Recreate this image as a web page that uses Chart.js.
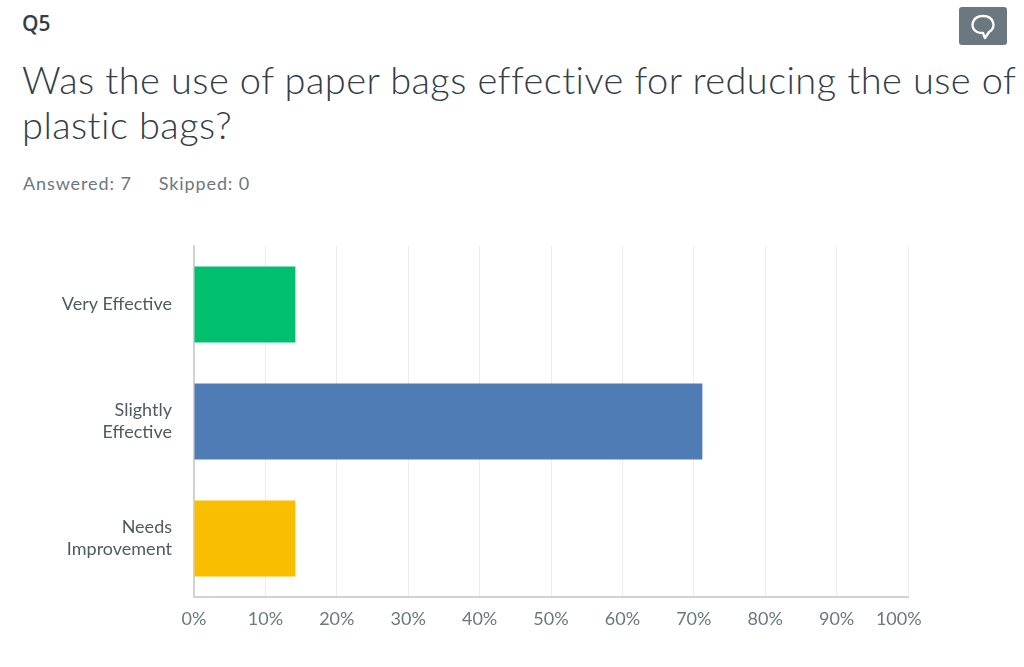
<!DOCTYPE html>
<html>
<head>
<meta charset="utf-8">
<title>Q5</title>
<script src="https://cdn.jsdelivr.net/npm/chart.js"></script>
<style>
    html, body { margin: 0; padding: 0; background: #fff; }
    body { width: 1024px; height: 667px; position: relative; overflow: hidden; font-family: "Open Sans", sans-serif; }
    #numero { position: absolute; left: 22px; top: 9px; font-size: 21px; font-weight: 600; color: #333e48; }
    #pregunta { position: absolute; left: 22px; top: 57px; width: 1002px; margin: 0; font-family: "Lato", sans-serif; font-weight: 300; font-size: 38px; line-height: 45px; letter-spacing: 0.42px; color: #333e48; }
    #respuestas { position: absolute; left: 23px; top: 172px; font-family: "Lato", sans-serif; font-size: 18px; letter-spacing: 0.9px; color: #6b787f; }
    #respuestas span { margin-right: 27px; }
    #comentario { position: absolute; left: 959px; top: 7px; }
    #grafico1 { position: absolute; left: 0; top: 220px; }
</style>
</head>
<body>
<div id="numero">Q5</div>
<svg id="comentario" width="48" height="38" viewBox="0 0 48 38">
    <rect width="48" height="38" rx="3" fill="#6b787f"/>
    <path d="M18 25 C10 21 13 9 24 9 C35 9 38 21 30 25 L26 31 L24 26 C22 26 20 26 18 25 Z" fill="none" stroke="#fff" stroke-width="2.4" stroke-linejoin="round"/>
</svg>
<h1 id="pregunta">Was the use of paper bags effective for reducing the use of plastic bags?</h1>
<div id="respuestas"><span>Answered: 7</span><span>Skipped: 0</span></div>
<canvas id="grafico1" width="1024" height="447"></canvas>
<script>
const categorias = [["Very Effective"], ["Slightly", "Effective"], ["Needs", "Improvement"]];
const valores = [14.2, 71.2, 14.2];
const colores = ["#00bf6f", "#507cb6", "#f9be00"];
const ticks_x = [0, 10, 20, 30, 40, 50, 60, 70, 80, 90, 100];

const fuente = { family: "Lato", size: 18, lineHeight: 1.22 };

new Chart(document.getElementById("grafico1"), {
    type: 'bar',
    data: {
        labels: categorias,
        datasets: [
            {
                label: "Responses",
                backgroundColor: colores,
                data: valores,
                barPercentage: 0.65,
                categoryPercentage: 1
            }
        ]
    },
    options: {
        indexAxis: 'y',
        responsive: false,
        animation: false,
        layout: { padding: { top: 26, right: 116, bottom: 0, left: 0 } },
        plugins: {
            legend: { display: false },
            title: { display: false },
            tooltip: { enabled: false }
        },
        scales: {
            x: {
                min: 0,
                max: 100,
                afterBuildTicks: function(scale){
                    scale.ticks = ticks_x.map(v => ({ value: v }));
                },
                afterFit: function(scale){
                    scale.height = 70;
                    scale.paddingLeft = 0;
                    scale.paddingRight = 0;
                },
                grid: { color: "#ecedee", lineWidth: 1, drawTicks: false },
                border: { color: "#d0d2d3", width: 2 },
                ticks: {
                    autoSkip: false,
                    maxRotation: 0,
                    padding: 11,
                    color: "#6b787f",
                    font: fuente,
                    // el ultimo rotulo queda corrido a la izquierda de su linea
                    callback: function(v){ return v === 100 ? v + "%    " : v + "%"; }
                }
            },
            y: {
                afterFit: function(scale){
                    scale.width = 194;
                    scale.paddingTop = 0;
                    scale.paddingBottom = 0;
                },
                grid: { display: false, drawTicks: false },
                border: { color: "#d0d2d3", width: 2 },
                ticks: { padding: 22, color: "#4f5b63", font: fuente }
            }
        }
    }
});
</script>
</body>
</html>
